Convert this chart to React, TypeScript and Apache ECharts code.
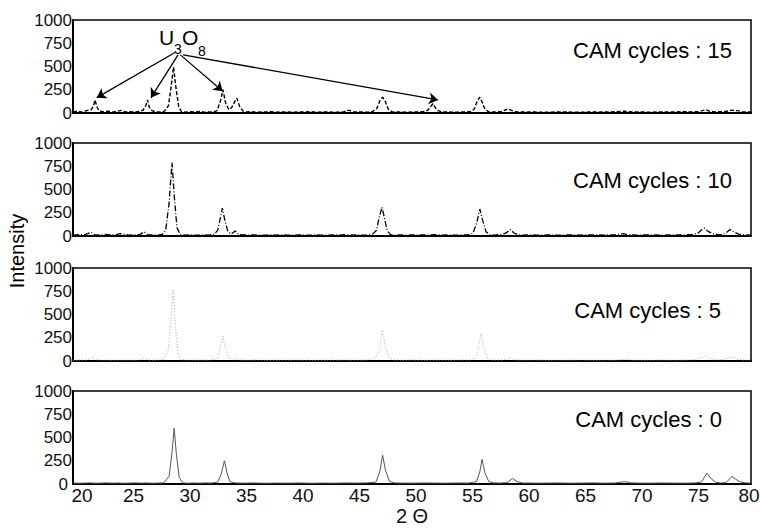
import React, { useEffect, useRef } from "react";
import * as echarts from "echarts";

// ---- tick labels ----
const xTickLabels = [20, 25, 30, 35, 40, 45, 50, 55, 60, 65, 70, 75, 80];
const yTickLabels = [0, 250, 500, 750, 1000];

// ---- panel captions (top to bottom) ----
const panelLabels = ["CAM cycles : 15", "CAM cycles : 10", "CAM cycles : 5", "CAM cycles : 0"];

// ---- XRD patterns: [2θ, intensity] ----
const cam15: [number, number][] = [
  [20, 8], [20.4, 20], [20.8, 10], [21.2, 25], [21.6, 35], [21.8, 70], [21.95, 140], [22.1, 70], [22.3, 25], [22.7, 12],
  [23.1, 20], [23.5, 10], [23.9, 18], [24.3, 28], [24.7, 10], [25.1, 15], [25.5, 8], [25.9, 20], [26.2, 30], [26.45, 80],
  [26.6, 140], [26.75, 60], [27, 25], [27.3, 10], [27.7, 12], [28.1, 20], [28.45, 80], [28.7, 300], [28.9, 495], [29.1, 280],
  [29.35, 70], [29.6, 15], [30, 8], [30.4, 15], [30.8, 10], [31.2, 18], [31.6, 8], [32, 12], [32.4, 10], [32.75, 25],
  [33.05, 130], [33.27, 250], [33.5, 110], [33.8, 35], [34.05, 60], [34.3, 120], [34.5, 160], [34.75, 70], [35.05, 20], [35.4, 10],
  [35.8, 15], [36.2, 8], [36.6, 12], [37, 10], [37.5, 15], [38, 8], [38.5, 12], [39, 10], [39.5, 8], [40, 12],
  [40.5, 10], [41, 15], [41.5, 8], [42, 10], [42.5, 12], [43, 8], [43.5, 10], [44, 15], [44.4, 30], [44.8, 12],
  [45.2, 10], [45.6, 12], [46, 8], [46.5, 15], [46.9, 50], [47.15, 130], [47.4, 170], [47.65, 120], [47.9, 40], [48.2, 15],
  [48.6, 10], [49, 12], [49.5, 8], [50, 10], [50.5, 12], [51, 15], [51.4, 30], [51.65, 70], [51.85, 100], [52.05, 60],
  [52.3, 25], [52.7, 10], [53.2, 12], [53.7, 8], [54.2, 10], [54.7, 12], [55.2, 15], [55.5, 40], [55.75, 120], [56.0, 170],
  [56.2, 120], [56.45, 40], [56.8, 12], [57.2, 10], [57.6, 12], [58, 18], [58.3, 35], [58.5, 45], [58.75, 30], [59.1, 15],
  [59.5, 10], [60, 12], [61, 10], [62, 8], [63, 12], [64, 10], [65, 9], [66, 12], [67, 10], [68, 14],
  [68.8, 20], [69.5, 10], [70, 12], [71, 9], [72, 12], [73, 10], [74, 15], [74.7, 12], [75.3, 15], [75.7, 25],
  [76.0, 35], [76.3, 20], [76.8, 12], [77.3, 15], [77.8, 18], [78.2, 28], [78.5, 30], [78.8, 25], [79.2, 15], [79.6, 12],
  [80, 10],
];

const cam10: [number, number][] = [
  [20, 10], [20.5, 15], [21, 12], [21.3, 25], [21.6, 40], [21.9, 15], [22.3, 10], [22.8, 18], [23.3, 12], [23.8, 15],
  [24.2, 25], [24.5, 20], [24.9, 10], [25.4, 12], [25.9, 15], [26.3, 45], [26.6, 15], [27, 12], [27.5, 10], [27.9, 18],
  [28.2, 60], [28.5, 350], [28.76, 790], [28.98, 400], [29.2, 90], [29.5, 15], [30, 10], [30.5, 12], [31, 8], [31.5, 12],
  [32, 10], [32.5, 18], [32.8, 60], [33.05, 200], [33.22, 300], [33.42, 180], [33.7, 50], [34, 20], [34.35, 55], [34.65, 20],
  [35, 12], [35.5, 10], [36, 12], [36.5, 8], [37, 10], [37.5, 12], [38, 9], [38.5, 12], [39, 10], [39.5, 8],
  [40, 12], [40.5, 10], [41, 9], [41.5, 12], [42, 10], [42.5, 8], [43, 12], [43.5, 10], [44, 14], [44.5, 10],
  [45, 12], [45.5, 10], [46, 12], [46.5, 20], [46.85, 60], [47.1, 200], [47.35, 310], [47.55, 200], [47.8, 60], [48.1, 15],
  [48.5, 10], [49, 12], [49.5, 9], [50, 12], [50.5, 10], [51, 12], [51.5, 10], [52, 15], [52.5, 10], [53, 12],
  [53.5, 9], [54, 10], [54.5, 12], [55, 14], [55.4, 30], [55.75, 150], [56.0, 290], [56.25, 170], [56.55, 45], [56.9, 12],
  [57.3, 10], [57.8, 15], [58.3, 30], [58.7, 70], [59.0, 35], [59.4, 12], [59.8, 10], [60.5, 12], [61, 9], [62, 11],
  [63, 9], [64, 12], [65, 10], [66, 12], [67, 10], [68, 13], [68.4, 18], [68.7, 25], [69.1, 12], [70, 10],
  [71, 12], [72, 9], [73, 11], [74, 12], [74.8, 15], [75.3, 30], [75.65, 70], [75.9, 85], [76.2, 50], [76.6, 25],
  [77, 18], [77.5, 15], [77.85, 40], [78.15, 70], [78.45, 45], [78.9, 20], [79.4, 12], [80, 10],
];

const cam5: [number, number][] = [
  [20, 8], [20.5, 12], [21, 10], [21.4, 20], [21.7, 40], [22, 15], [22.5, 10], [23, 12], [23.5, 8], [24, 12],
  [24.5, 10], [25, 12], [25.5, 9], [26, 15], [26.3, 30], [26.6, 12], [27, 10], [27.5, 12], [28, 15], [28.4, 100],
  [28.65, 400], [28.85, 770], [29.05, 420], [29.25, 100], [29.5, 20], [29.9, 10], [30.3, 12], [30.8, 9], [31.3, 12], [31.8, 10],
  [32.3, 12], [32.8, 30], [33.05, 150], [33.27, 270], [33.47, 150], [33.75, 40], [34.1, 15], [34.4, 25], [34.7, 12], [35, 10],
  [36, 12], [37, 9], [38, 11], [39, 10], [40, 12], [41, 9], [42, 11], [43, 10], [44, 12], [45, 10],
  [46, 12], [46.7, 25], [47.1, 120], [47.4, 330], [47.65, 150], [48, 30], [48.4, 12], [49, 10], [50, 12], [51, 9],
  [52, 11], [53, 10], [54, 12], [55, 11], [55.6, 30], [55.9, 150], [56.1, 300], [56.35, 140], [56.7, 30], [57.1, 12],
  [57.8, 10], [58.4, 20], [58.7, 30], [59.1, 12], [60, 10], [61, 12], [62, 9], [63, 11], [64, 10], [65, 12],
  [66, 9], [67, 11], [68, 10], [68.8, 18], [69.5, 10], [70, 11], [71, 9], [72, 12], [73, 10], [74, 11],
  [75, 14], [75.5, 30], [75.95, 60], [76.3, 30], [76.8, 15], [77.5, 14], [78, 30], [78.3, 50], [78.7, 25], [79.2, 12],
  [80, 10],
];

const cam0: [number, number][] = [
  [20, 12], [20.5, 8], [21, 10], [21.5, 12], [22, 8], [22.5, 10], [23, 12], [23.5, 9], [24, 11], [24.5, 8],
  [25, 10], [25.5, 12], [26, 9], [26.5, 11], [27, 8], [27.5, 10], [28, 12], [28.5, 80], [28.75, 330], [28.95, 600],
  [29.15, 320], [29.4, 70], [29.7, 12], [30.2, 8], [30.7, 11], [31.2, 9], [31.7, 12], [32.2, 10], [32.8, 20], [33.1, 100],
  [33.4, 250], [33.65, 110], [33.9, 25], [34.3, 12], [35, 9], [36, 11], [37, 8], [38, 10], [39, 9], [40, 11],
  [41, 8], [42, 10], [43, 9], [44, 11], [45, 10], [46, 12], [46.8, 20], [47.15, 130], [47.4, 310], [47.65, 150],
  [48, 30], [48.4, 12], [49, 10], [50, 9], [51, 11], [52, 10], [53, 9], [54, 11], [55, 10], [55.7, 25],
  [56.0, 130], [56.2, 265], [56.45, 120], [56.8, 25], [57.2, 12], [57.8, 10], [58.4, 15], [58.9, 60], [59.3, 25], [59.8, 10],
  [60.5, 11], [61, 9], [62, 10], [63, 11], [64, 9], [65, 10], [66, 12], [67, 9], [68, 11], [68.5, 20],
  [68.9, 25], [69.3, 12], [70, 10], [71, 9], [72, 11], [73, 10], [74, 9], [75, 11], [75.6, 20], [76.1, 115],
  [76.45, 60], [76.85, 20], [77.3, 12], [77.8, 15], [78.3, 80], [78.6, 55], [79, 25], [79.5, 12], [80, 10],
];

// U3O8 annotation arrows in data coordinates of the top panel: [from, to]
const u3o8Arrows: [number, number][][] = [
  [[29.03, 650], [22.1, 165]],
  [[29.3, 625], [26.9, 165]],
  [[29.5, 625], [33.25, 235]],
  [[29.75, 625], [52.3, 140]],
];

const FONT = '"Liberation Sans", Arial, Helvetica, sans-serif';

const gridTops = [20, 143, 268, 391];
const gridHeight = 93;
const labelPos = [
  { x: 732, y: 50 },
  { x: 732, y: 180 },
  { x: 721, y: 310 },
  { x: 722, y: 419 },
];

const seriesData = [cam15, cam10, cam5, cam0];
const lineStyles = [
  { color: "#000", width: 1.4, type: [4, 2] as any },
  { color: "#000", width: 1.3, type: [6, 2, 1, 2] as any },
  { color: "#a8a8a8", width: 1, type: [1, 2] as any },
  { color: "#555", width: 1, type: "solid" as any },
];

export default function App() {
  const ref = useRef<HTMLDivElement>(null);

  useEffect(() => {
    if (!ref.current) return;
    const chart = echarts.init(ref.current, undefined, { renderer: "svg" });

    const grids = gridTops.map((t) => ({
      left: 73,
      right: 9,
      top: t,
      height: gridHeight,
      show: true,
      borderColor: "#000",
      borderWidth: 1.5,
      containLabel: false,
      outerBoundsMode: "none",
    }));

    const first = xTickLabels[0];
    const last = xTickLabels[xTickLabels.length - 1];

    const xAxes = gridTops.map((_, i) => ({
      type: "value",
      gridIndex: i,
      min: first,
      max: last,
      interval: xTickLabels[1] - xTickLabels[0],
      axisLine: { show: true, onZero: false, lineStyle: { color: "#000", width: 2 } },
      axisTick: { show: false },
      splitLine: { show: false },
      axisLabel: {
        show: i === 3,
        fontSize: 19,
        color: "#111",
        fontFamily: FONT,
        margin: 2,
        formatter: (v: number) =>
          v === first ? `{f|${v}}` : v === last ? `{l|${v}}` : `{n|${v}}`,
        rich: {
          f: { fontSize: 19, color: "#111", fontFamily: FONT, padding: [0, 0, 0, 18] },
          n: { fontSize: 19, color: "#111", fontFamily: FONT, padding: [0, 0, 0, 8] },
          l: { fontSize: 19, color: "#111", fontFamily: FONT, padding: [0, 4, 0, 0] },
        },
      },
      name: i === 3 ? "2 Θ" : "",
      nameLocation: "middle",
      nameGap: 21,
      nameTextStyle: { fontSize: 20, color: "#111", fontFamily: FONT },
    }));

    const yAxes = gridTops.map((_, i) => ({
      type: "value",
      gridIndex: i,
      min: yTickLabels[0],
      max: yTickLabels[yTickLabels.length - 1],
      interval: yTickLabels[1] - yTickLabels[0],
      axisLine: { show: true, lineStyle: { color: "#000", width: 2 } },
      axisTick: { show: false },
      splitLine: { show: false },
      axisLabel: {
        fontSize: 17,
        color: "#111",
        fontFamily: FONT,
        margin: 1,
        formatter: (v: number) => (i === 3 && v === 0 ? `{z|${v}}` : `{n|${v}}`),
        rich: {
          z: { fontSize: 17, color: "#111", fontFamily: FONT, padding: [0, 4, 0, 0] },
          n: { fontSize: 17, color: "#111", fontFamily: FONT },
        },
      },
    }));

    const series: any[] = seriesData.map((d, i) => ({
      type: "line",
      name: panelLabels[i],
      xAxisIndex: i,
      yAxisIndex: i,
      data: d,
      showSymbol: false,
      symbol: "none",
      smooth: false,
      lineStyle: lineStyles[i],
      silent: true,
      z: 3,
    }));

    series[0].markLine = {
      silent: true,
      symbol: ["none", "arrow"],
      symbolSize: 9,
      label: { show: false },
      lineStyle: { color: "#000", width: 1.3, type: "solid" },
      data: u3o8Arrows.map(([a, b]) => [{ coord: a }, { coord: b }]),
    };

    const textStyle = (text: string, size: number, align: string, vAlign: string) => ({
      text,
      font: `${size}px ${FONT}`,
      fill: "#000",
      textAlign: align,
      textVerticalAlign: vAlign,
      align,
      verticalAlign: vAlign,
    });

    const graphic: any[] = [
      ...panelLabels.map((t, i) => ({
        type: "text",
        x: labelPos[i].x,
        y: labelPos[i].y,
        style: textStyle(t, 22, "right", "middle"),
      })),
      {
        type: "text",
        x: 17,
        y: 251,
        rotation: Math.PI / 2,
        style: textStyle("Intensity", 20, "center", "middle"),
      },
      { type: "text", x: 159, y: 48, style: textStyle("U", 21, "left", "bottom"), z: 10 },
      { type: "text", x: 174, y: 56, style: textStyle("3", 14, "left", "bottom"), z: 10 },
      { type: "text", x: 182, y: 48, style: textStyle("O", 21, "left", "bottom"), z: 10 },
      { type: "text", x: 198, y: 58, style: textStyle("8", 14, "left", "bottom"), z: 10 },
    ];

    chart.setOption({
      animation: false,
      backgroundColor: "#fff",
      grid: grids,
      xAxis: xAxes,
      yAxis: yAxes,
      series,
      graphic,
    });

    return () => chart.dispose();
  }, []);

  return (
    <div
      ref={ref}
      style={{ position: "absolute", left: 0, top: 0, width: 760, height: 531, background: "#fff" }}
    />
  );
}
